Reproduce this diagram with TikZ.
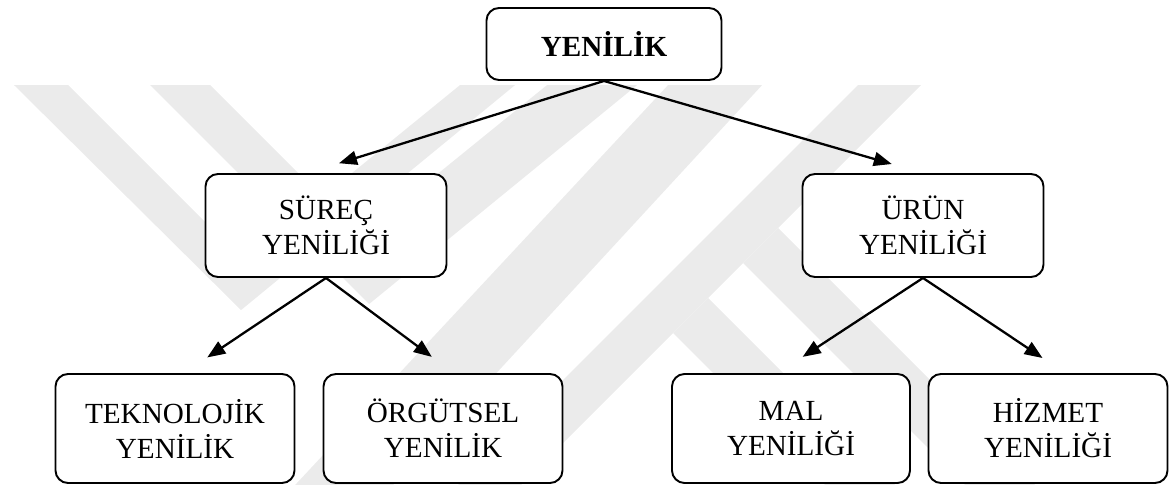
\documentclass[tikz,border=0pt]{standalone}
\usepackage{fontspec}
\setmainfont{Liberation Serif}
\usetikzlibrary{arrows.meta,positioning}
\definecolor{ink}{HTML}{000000}
\definecolor{wmgray}{HTML}{EBEBEB}
\tikzset{
  rootbox/.style={draw=ink,fill=white,line width=1.1pt,rounded corners=0.25cm,
                  minimum width=4.7cm,minimum height=1.44cm,align=center,
                  font=\fontsize{16.6}{19.9}\selectfont\bfseries,inner sep=0pt},
  catbox/.style={draw=ink,fill=white,line width=1.1pt,rounded corners=0.25cm,
                 minimum width=4.82cm,minimum height=2.06cm,align=center,
                 font=\fontsize{16.6}{19.9}\selectfont,inner sep=0pt},
  leafbox/.style={catbox,minimum width=4.78cm,minimum height=2.18cm},
  treearr/.style={-{Triangle[length=0.36cm,width=0.28cm]},line width=1.3pt,draw=ink},
  wmband/.style={fill=wmgray,draw=none}
}
\begin{document}
\begin{tikzpicture}[x=1cm,y=1cm]
    \path[use as bounding box] (0,0) rectangle (23.4,9.7);
    % faint watermark behind the tree
    \begin{scope}[x=0.02cm,y=-0.02cm,yshift=9.7cm]
      \fill[wmband] (14,85) -- (68,85) -- (244,261) -- (460,85) -- (515,85) -- (241,310) -- cycle;
      \fill[wmband] (150,85) -- (210,85) -- (361,236) -- (547,85) -- (637,85) -- (369,304) -- cycle;
      \fill[wmband] (668,85) -- (762,85) -- (393,485) -- (295,485) -- cycle;
      \fill[wmband] (858,85) -- (921,85) -- (521,485) -- (458,485) -- cycle;
      \fill[wmband] (673,333) -- (708,298) -- (895,485) -- (825,485) -- cycle;
      \fill[wmband] (743,263) -- (778,228) -- (1035,485) -- (965,485) -- cycle;
    \end{scope}

    \node[rootbox] (yenilik) at (12.08,8.82) {YENİLİK};

    \node[catbox] (surec) at (6.52,5.19) {SÜREÇ\\YENİLİĞİ};
    \node[catbox] (urun) at (18.46,5.19) {ÜRÜN\\YENİLİĞİ};

    \node[leafbox] (teknolojik) at (3.5,1.13) {TEKNOLOJİK\\YENİLİK};
    \node[leafbox] (orgutsel) at (8.86,1.13) {ÖRGÜTSEL\\YENİLİK};
    \node[leafbox,minimum width=4.76cm] (mal) at (15.82,1.13) {MAL\\YENİLİĞİ};
    \node[leafbox] (hizmet) at (20.96,1.13) {HİZMET\\YENİLİĞİ};

    \draw[treearr,shorten >=0.66cm] (yenilik.south) -- ([xshift=-0.37cm]surec.north);
    \draw[treearr,shorten >=0.65cm] (yenilik.south) -- (urun.north);
    \draw[treearr,shorten >=0.56cm] (surec.south) -- ([xshift=0.18cm]teknolojik.north);
    \draw[treearr,shorten >=0.54cm] (surec.south) -- ([xshift=0.21cm]orgutsel.north);
    \draw[treearr,shorten >=0.59cm] (urun.south) -- ([xshift=-0.26cm]mal.north);
    \draw[treearr,shorten >=0.54cm] (urun.south) -- ([xshift=0.34cm]hizmet.north);
  \end{tikzpicture}
\end{document}
